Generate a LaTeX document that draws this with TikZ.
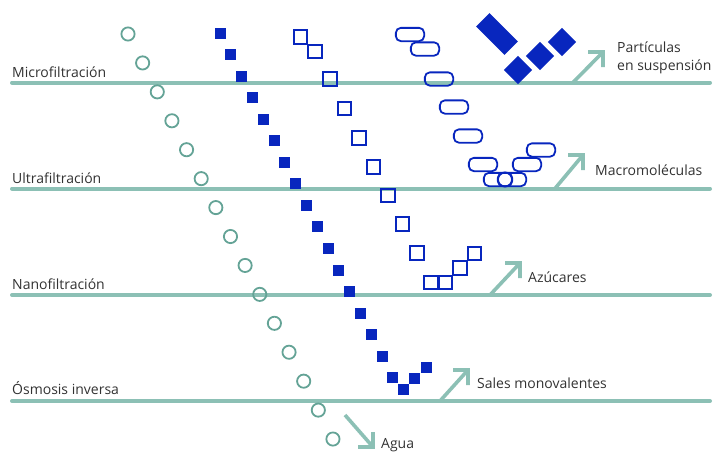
\documentclass[tikz,border=0pt]{standalone}
\usepackage{fontspec}
\setmainfont{Open Sans}
\definecolor{membrane}{RGB}{140,192,181}
\definecolor{water}{RGB}{100,163,150}
\definecolor{solute}{RGB}{8,38,190}
\definecolor{labelgray}{RGB}{50,50,50}
\begin{document}
\begin{tikzpicture}[x=1pt,y=-1pt,
  membrane/.style={draw=membrane, line width=4pt, line cap=round},
  passline/.style={draw=membrane, line width=3.6pt, line join=miter},
  label/.style={anchor=base west, inner sep=0, text=labelgray, font=\fontsize{14}{16}\selectfont},
  watermol/.style={circle, draw=water, line width=1.8pt, minimum size=13.2pt, inner sep=0},
  saltmol/.style={rectangle, fill=solute, minimum size=11pt, inner sep=0},
  sugarmol/.style={rectangle, draw=solute, line width=1.8pt, minimum size=13.4pt, inner sep=0},
  macromol/.style={rectangle, rounded corners=5pt, draw=solute, line width=1.8pt, minimum width=28.3pt, minimum height=13.3pt, inner sep=0},
  particle/.style={rectangle, fill=solute, inner sep=0},
]
\path[use as bounding box] (0,0) rectangle (713,451);

% membranes
\coordinate (mfL) at (12,82.5);  \coordinate (mfR) at (710,82.5);
\coordinate (ufL) at (12,188.5); \coordinate (ufR) at (710,188.5);
\coordinate (nfL) at (12,295);   \coordinate (nfR) at (710,295);
\coordinate (roL) at (12,401);   \coordinate (roR) at (710,401);
\draw[membrane] (mfL) -- (mfR);
\draw[membrane] (ufL) -- (ufR);
\draw[membrane] (nfL) -- (nfR);
\draw[membrane] (roL) -- (roR);

% process names
\node[label] (tmf) at (12,77)  {Microfiltración};
\node[label] (tuf) at (12,183) {Ultrafiltración};
\node[label] (tnf) at (12,289) {Nanofiltración};
\node[label] (tro) at (12,394) {Ósmosis inversa};

% water: passes every membrane
\foreach \i in {0,...,14}
  \node[watermol] (w\i) at ({128+14.64*\i},{34+28.93*\i}) {};

% monovalent salts: retained by reverse osmosis
\foreach \i in {0,...,16}
  \node[saltmol] (s\i) at ({220+10.8*\i},{33+21.55*\i}) {};
\node[saltmol] (s17) at (403,389) {};
\node[saltmol] (s18) at (414,378) {};
\node[saltmol] (s19) at (426,367) {};

% sugars: retained by nanofiltration
\foreach \p [count=\k] in {(300.5,37),(315,51.5),(330,79),(344.5,108.5),(359,138),
    (373.5,167),(388,195.5),(402.5,224),(417,253),(431,282.5),(445.5,282.5),
    (460,268),(474.5,253.5)}
  \node[sugarmol] (z\k) at \p {};

% macromolecules: retained by ultrafiltration
\foreach \p [count=\k] in {(410,34.5),(425,49),(439,79),(454,107),(468,136),
    (483,164.5),(527,164.5),(541,150),(498,179.5),(512,179.5)}
  \node[macromol] (g\k) at \p {};
\node[circle, draw=solute, line width=1.8pt, minimum size=14pt, inner sep=0] (g11) at (505,179.5) {};

% suspended particles: retained by microfiltration
\node[particle, minimum width=40pt, minimum height=19pt, rotate=-45] (p1) at (497,34) {};
\node[particle, minimum size=20pt, rotate=45] (p2) at (518,70) {};
\node[particle, minimum size=20pt, rotate=45] (p3) at (540,56) {};
\node[particle, minimum size=20pt, rotate=45] (p4) at (562,42) {};

% streams leaving each membrane, with open right-angled heads
\coordinate (amf) at (573,82.5);  \coordinate (bmf) at (603,52);
\coordinate (auf) at (555,188.5); \coordinate (buf) at (583,155);
\coordinate (anf) at (490,295);   \coordinate (bnf) at (520,263);
\coordinate (aro) at (440,401);   \coordinate (bro) at (468,370);
\coordinate (aaq) at (345,415);   \coordinate (baq) at (373,447);
\draw[passline] (amf) -- (bmf) ([xshift=-15pt]bmf) -- (bmf) -- ([yshift=-15pt]bmf);
\draw[passline] (auf) -- (buf) ([xshift=-15pt]buf) -- (buf) -- ([yshift=-15pt]buf);
\draw[passline] (anf) -- (bnf) ([xshift=-15pt]bnf) -- (bnf) -- ([yshift=-15pt]bnf);
\draw[passline] (aro) -- (bro) ([xshift=-15pt]bro) -- (bro) -- ([yshift=-15pt]bro);
\draw[passline] (aaq) -- (baq) ([xshift=-15pt]baq) -- (baq) -- ([yshift=15pt]baq);

\node[label] (lmf1) at (617,52)  {Partículas};
\node[label] (lmf2) at (617,70)  {en suspensión};
\node[label] (luf)  at (595,175) {Macromoléculas};
\node[label] (lnf)  at (528,282) {Azúcares};
\node[label] (lro)  at (477,388) {Sales monovalentes};
\node[label] (laq)  at (381,448) {Agua};
\end{tikzpicture}
\end{document}
